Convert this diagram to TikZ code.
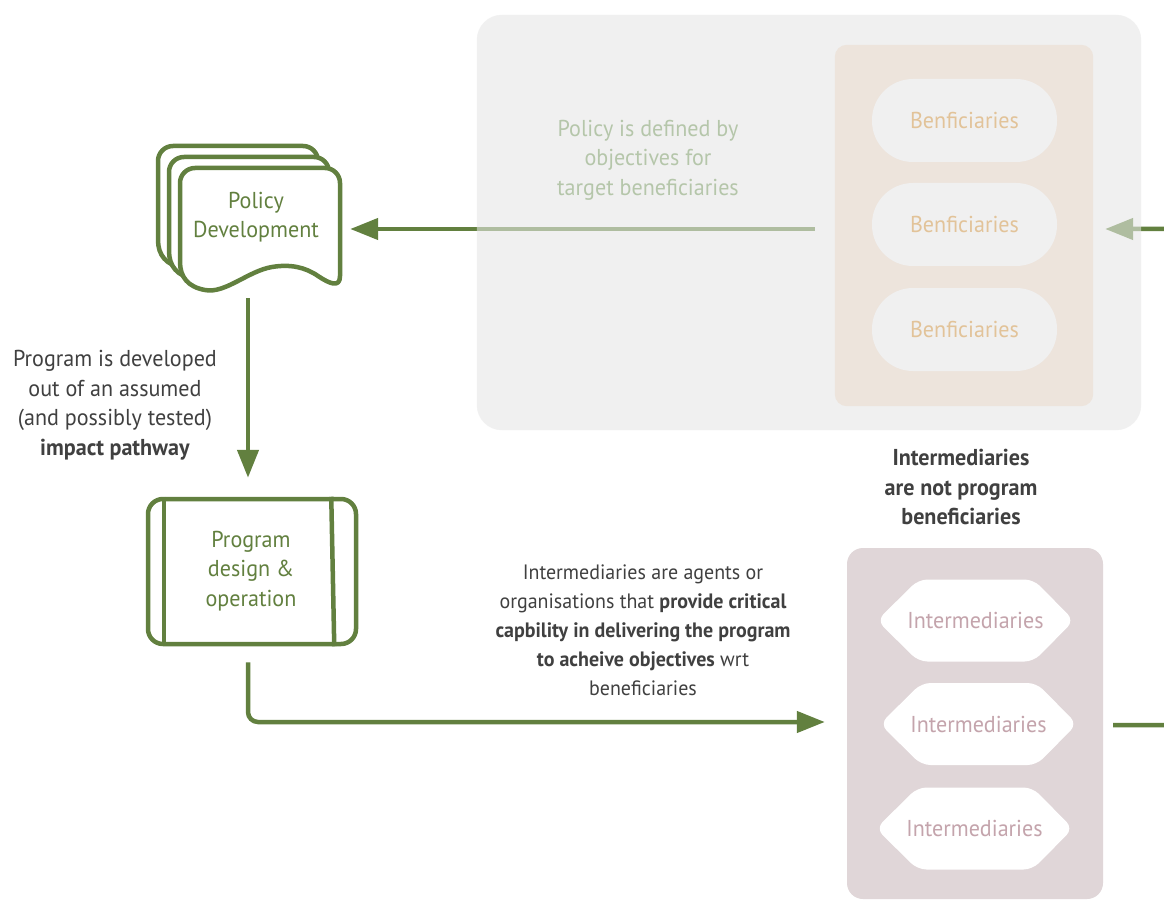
\documentclass[tikz,border=0pt]{standalone}
\usepackage{fontspec}
\setmainfont{PT Sans}[FakeStretch=0.96]
\usetikzlibrary{arrows.meta,calc}
\definecolor{dkgreen}{HTML}{62803F}
\definecolor{greybox}{HTML}{F0F0F0}
\definecolor{beige}{HTML}{EDE4DC}
\definecolor{bentext}{HTML}{E2C399}
\definecolor{poltext}{HTML}{B5C6AA}
\definecolor{interbox}{HTML}{E0D6D8}
\definecolor{intertext}{HTML}{C4A4AC}
\definecolor{darktext}{HTML}{404040}
\begin{document}
\begin{tikzpicture}[x=1pt,y=-1pt,
  font=\fontsize{23}{29.5}\selectfont,
  arr/.style={draw=dkgreen, line width=4.5pt, -{Triangle[length=28pt,width=21pt]}},
  gline/.style={draw=dkgreen, line width=4.5pt, line join=round},
  benbox/.style={fill=greybox, rounded corners=41pt, minimum width=185pt, minimum height=83pt, text=bentext, inner sep=0pt},
  plain/.style={align=center, inner sep=0pt},
]
\useasboundingbox (0,0) rectangle (1164,901);
\clip (0,0) rectangle (1164,901);
\fill[white] (0,0) rectangle (1164,901);

% grey area
\node[fill=greybox, rounded corners=25pt, minimum width=664pt, minimum height=415pt, inner sep=0pt] (grey) at (809,222.5) {};
% beige group holder (drawn later)
\path (964,225.5) node[minimum width=258pt, minimum height=361pt, inner sep=0pt] (beige) {};

% intermediaries group
\node[fill=interbox, rounded corners=16pt, minimum width=256pt, minimum height=351pt, inner sep=0pt] (inter) at (975,723.5) {};

% policy development document stack
\foreach \d in {22,11,0}{
  \begin{scope}[shift={(-\d,-\d)}]
  \draw[gline, fill=white] (180,262) [rounded corners=15pt] -- (180,168) -- (340,168) -- (340,200) [sharp corners] -- (340,276)
    .. controls (340,288) and (330,284) .. (318,276)
    .. controls (305,267) and (290,264) .. (272,267)
    .. controls (248,271) and (225,294) .. (205,290)
    .. controls (188,287) and (180,277) .. (180,262);
  \end{scope}
}
\node[minimum width=160pt, minimum height=122pt, inner sep=0pt] (pd) at (260,229) {};
\node[plain, text=dkgreen] (pdlabel) at (256,217) {Policy\\Development};

% program design box
\node[gline, fill=white, rounded corners=15pt, minimum width=208pt, minimum height=145pt, inner sep=0pt, align=center, text=dkgreen] (prog) at (252,571.5) {};
\draw[gline] ($(prog.north west)+(18,0)$) -- ($(prog.south west)+(18,0)$);
\draw[gline] ($(prog.north east)+(-27,0)$) -- ($(prog.south east)+(-24,0)$);
\node[plain, text=dkgreen] (proglabel) at (251,571) {Program\\design \&\\operation};

% connectors
\draw[arr] ($(beige.west)+(-20,3.5)$) -- ($(pd.east)+(10,0)$);
\draw[arr, rounded corners=20pt] ($(inter.east)+(10,1.5)$) -- (1190,725) -- (1190,229) -- ($(beige.east)+(12,3.5)$);
\draw[arr] ($(pd.south)+(-12,8)$) -- ($(prog.north)+(-4,-19)$);
\draw[arr, rounded corners=10pt] ($(prog.south)+(-4,16)$) |- ($(inter.west |- 0,722)+(-22,0)$);

% fade overlay of grey area
\fill[greybox, fill opacity=0.55, rounded corners=25pt] (grey.north west) rectangle (grey.south east);

% beige group and beneficiaries
\fill[beige, rounded corners=12pt] (beige.north west) rectangle (beige.south east);
\node[benbox] (b1) at (964.5,120.5) {Benficiaries};
\node[benbox] (b2) at (964.5,224.5) {Benficiaries};
\node[benbox] (b3) at (964.5,329.5) {Benficiaries};

\node[plain, text=poltext] (poltxt) at (648,160) {Policy is defined by\\objectives for\\target beneficiaries};

% intermediaries hexagons
\foreach \cx/\cy/\nm in {975.5/620.5/i1, 978.5/724/i2, 974.5/828.5/i3}{
  \fill[white, rounded corners=9pt] (\cx-98.5,\cy) -- (\cx-57,\cy-41) -- (\cx+58,\cy-41) -- (\cx+98.5,\cy) -- (\cx+58,\cy+41) -- (\cx-57,\cy+41) -- cycle;
  \node[text=intertext, inner sep=0pt] (\nm) at (\cx,\cy) {Intermediaries};
}

% explanatory texts
\node[plain, text=darktext] (t1) at (115,405) {Program is developed\\out of an assumed\\(and possibly tested)\\\textbf{impact pathway}};
\node[plain, text=darktext, font=\fontsize{23}{29.5}\selectfont\bfseries] (t2) at (961,487) {Intermediaries\\are not program\\beneficiaries};
\node[plain, text=darktext, font=\fontsize{20.8}{29}\selectfont] (t3) at (643,630) {Intermediaries are agents or\\organisations that \textbf{provide critical}\\\textbf{capbility in delivering the program}\\\textbf{to acheive objectives} wrt\\beneficiaries};
\end{tikzpicture}
\end{document}
